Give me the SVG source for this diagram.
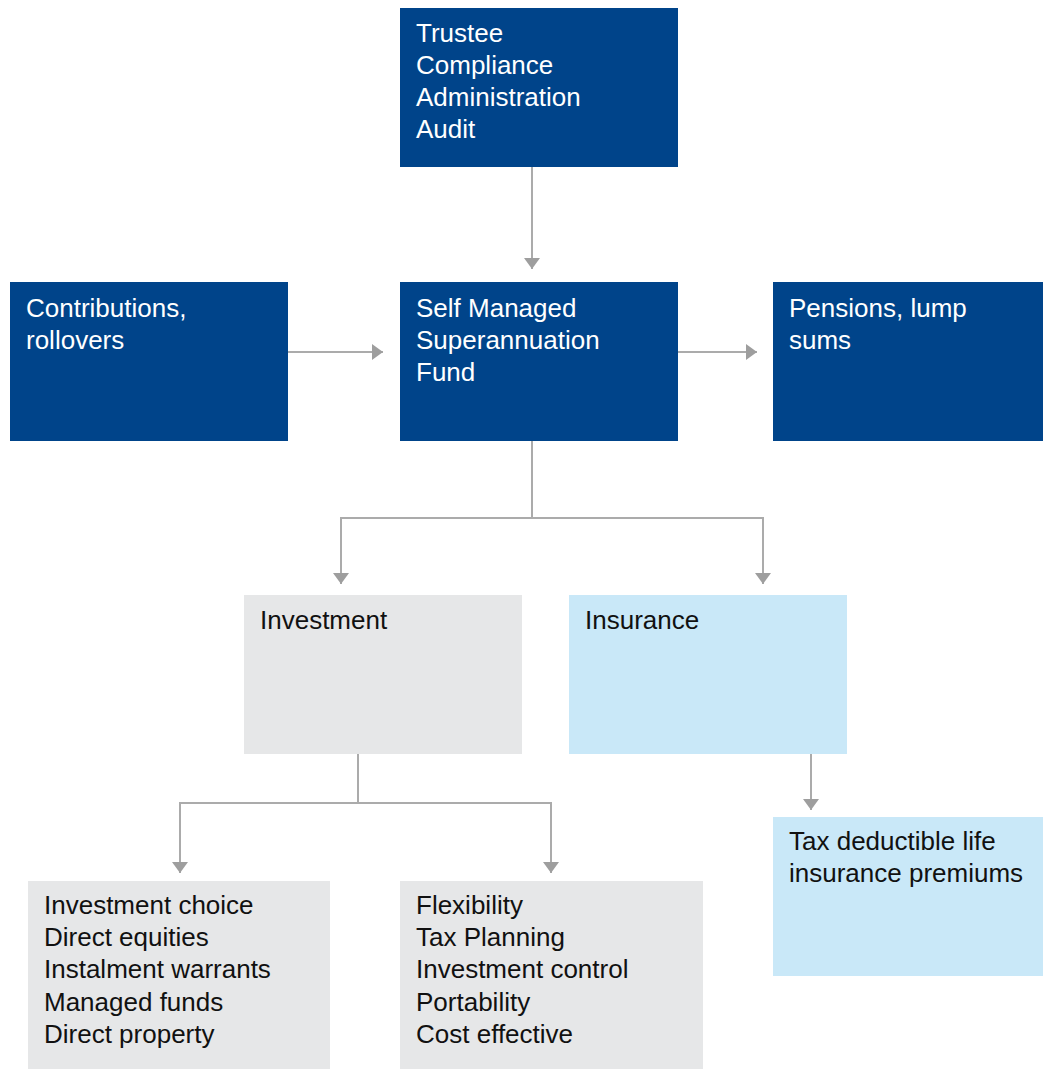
<svg xmlns="http://www.w3.org/2000/svg" width="1043" height="1069" viewBox="0 0 1043 1069">
  <style>
    .dark { fill: #00448A; }
    .gray { fill: #E6E7E8; }
    .light { fill: #C9E8F8; }
    .lbl { font-family: "Liberation Sans", Arial, Helvetica, sans-serif; font-size: 26px; }
    .w { fill: #FFFFFF; }
    .k { fill: #111111; }
    .conn { fill: none; stroke: #ABABAB; stroke-width: 2; }
  </style>
  <defs>
    <marker id="arr" markerUnits="userSpaceOnUse" markerWidth="12" markerHeight="16" refX="11" refY="8" orient="auto">
      <path d="M0,0 L11,8 L0,16 z" fill="#9E9E9E"/>
    </marker>
  </defs>
  <rect width="1043" height="1069" fill="#FFFFFF"/>

  <g id="connectors">
    <path class="conn" d="M532 167 V269" marker-end="url(#arr)"/>
    <path class="conn" d="M288 352 H383" marker-end="url(#arr)"/>
    <path class="conn" d="M678 352 H757" marker-end="url(#arr)"/>
    <path class="conn" d="M532 441 V518 H341 V584" marker-end="url(#arr)"/>
    <path class="conn" d="M532 518 H763 V584" marker-end="url(#arr)"/>
    <path class="conn" d="M358 754 V803 H180 V873" marker-end="url(#arr)"/>
    <path class="conn" d="M358 803 H551 V873" marker-end="url(#arr)"/>
    <path class="conn" d="M811 754 V810" marker-end="url(#arr)"/>
  </g>

  <g id="trustee">
    <rect class="dark" x="400" y="8" width="278" height="159"/>
    <text class="lbl w" x="416" y="42">Trustee</text>
    <text class="lbl w" x="416" y="74">Compliance</text>
    <text class="lbl w" x="416" y="106">Administration</text>
    <text class="lbl w" x="416" y="138">Audit</text>
  </g>

  <g id="contributions">
    <rect class="dark" x="10" y="282" width="278" height="159"/>
    <text class="lbl w" x="26" y="317">Contributions,</text>
    <text class="lbl w" x="26" y="349">rollovers</text>
  </g>

  <g id="smsf">
    <rect class="dark" x="400" y="282" width="278" height="159"/>
    <text class="lbl w" x="416" y="317">Self Managed</text>
    <text class="lbl w" x="416" y="349">Superannuation</text>
    <text class="lbl w" x="416" y="381">Fund</text>
  </g>

  <g id="pensions">
    <rect class="dark" x="773" y="282" width="270" height="159"/>
    <text class="lbl w" x="789" y="317">Pensions, lump</text>
    <text class="lbl w" x="789" y="349">sums</text>
  </g>

  <g id="investment">
    <rect class="gray" x="244" y="595" width="278" height="159"/>
    <text class="lbl k" x="260" y="629">Investment</text>
  </g>

  <g id="insurance">
    <rect class="light" x="569" y="595" width="278" height="159"/>
    <text class="lbl k" x="585" y="629">Insurance</text>
  </g>

  <g id="investment-options">
    <rect class="gray" x="28" y="881" width="302" height="188"/>
    <text class="lbl k" x="44" y="914">Investment choice</text>
    <text class="lbl k" x="44" y="946">Direct equities</text>
    <text class="lbl k" x="44" y="978">Instalment warrants</text>
    <text class="lbl k" x="44" y="1011">Managed funds</text>
    <text class="lbl k" x="44" y="1043">Direct property</text>
  </g>

  <g id="benefits">
    <rect class="gray" x="400" y="881" width="303" height="188"/>
    <text class="lbl k" x="416" y="914">Flexibility</text>
    <text class="lbl k" x="416" y="946">Tax Planning</text>
    <text class="lbl k" x="416" y="978">Investment control</text>
    <text class="lbl k" x="416" y="1011">Portability</text>
    <text class="lbl k" x="416" y="1043">Cost effective</text>
  </g>

  <g id="tax-deductible">
    <rect class="light" x="773" y="817" width="270" height="159"/>
    <text class="lbl k" x="789" y="850">Tax deductible life</text>
    <text class="lbl k" x="789" y="882">insurance premiums</text>
  </g>
</svg>
